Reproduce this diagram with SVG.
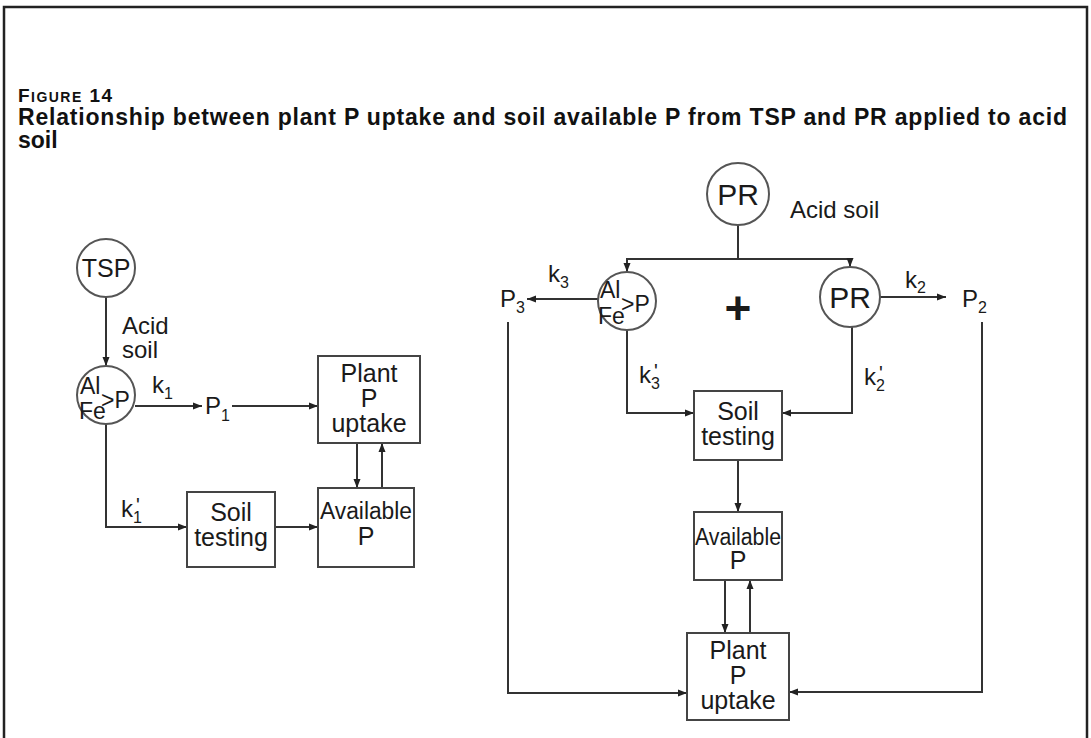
<svg xmlns="http://www.w3.org/2000/svg" width="1091" height="738" viewBox="0 0 1091 738">
<defs>
<marker id="ah" markerWidth="10" markerHeight="8" refX="9" refY="4" orient="auto" markerUnits="userSpaceOnUse">
<path d="M0,0.5 L9,4 L0,7.5 Z" fill="#222"/>
</marker>
</defs>
<style>
.t{font-family:"Liberation Sans",Arial,sans-serif;font-weight:bold;fill:#111}
.d{font-family:"Liberation Sans",Arial,sans-serif;fill:#1a1a1a;font-size:24px}
.bx{font-size:25px}
.af{font-size:23px}
.s{font-size:16px}
.pr{font-size:20px}
.c{text-anchor:middle}
.n{fill:#fff;stroke:#555;stroke-width:2}
.b{fill:#fff;stroke:#444;stroke-width:2}
.l{fill:none;stroke:#333;stroke-width:2}
.a{marker-end:url(#ah)}
</style>
<rect x="0" y="0" width="1091" height="738" fill="#fff"/>
<rect x="4" y="7" width="1083" height="760" fill="none" stroke="#222" stroke-width="2.5"/>
<g id="title">
<text class="t" x="18" y="102" textLength="94" lengthAdjust="spacing"><tspan font-size="19">F</tspan><tspan font-size="14">IGURE</tspan><tspan font-size="19"> 14</tspan></text>
<text class="t" x="18" y="125" font-size="23" textLength="1049" lengthAdjust="spacing">Relationship between plant P uptake and soil available P from TSP and PR applied to acid</text>
<text class="t" x="18" y="148" font-size="23">soil</text>
</g>
<g id="connectors">
<line class="l a" x1="106" y1="297" x2="106" y2="366"/>
<line class="l a" x1="135" y1="406" x2="202" y2="406"/>
<line class="l a" x1="232" y1="406" x2="318" y2="406"/>
<line class="l a" x1="357" y1="443" x2="357" y2="488"/>
<line class="l a" x1="382" y1="488" x2="382" y2="443"/>
<polyline class="l a" points="106,424 106,527 187,527"/>
<line class="l a" x1="275" y1="527" x2="318" y2="527"/>
<line class="l" x1="738" y1="225" x2="738" y2="259"/>
<polyline class="l a" points="738,259 627,259 627,272"/>
<polyline class="l a" points="738,259 850,259 850,267"/>
<line class="l a" x1="598" y1="299" x2="527" y2="299"/>
<line class="l a" x1="880" y1="297" x2="946" y2="297"/>
<polyline class="l a" points="508,322 508,693 687,693"/>
<polyline class="l a" points="982,322 982,692 789,692"/>
<polyline class="l a" points="627,330 627,413 694,413"/>
<polyline class="l a" points="852,327 852,413 782,413"/>
<line class="l a" x1="738" y1="460" x2="738" y2="512"/>
<line class="l a" x1="725" y1="580" x2="725" y2="633"/>
<line class="l a" x1="750" y1="633" x2="750" y2="580"/>
</g>
<g id="tsp">
<circle class="n" cx="106" cy="268" r="29"/>
<text class="d c" x="106" y="277" style="font-size:25px">TSP</text>
</g>
<g id="acid-soil-left">
<text class="d" x="122" y="334">Acid</text>
<text class="d" x="122" y="358">soil</text>
</g>
<g id="alfe-left">
<circle class="n" cx="106" cy="395" r="29"/>
<text class="d af" x="80" y="394">Al</text>
<text class="d af" x="79" y="419">Fe</text>
<text class="d af" x="101" y="408">&gt;P</text>
</g>
<g id="k1">
<text class="d" x="152" y="393">k<tspan class="s" dy="6">1</tspan></text>
</g>
<g id="p1">
<text class="d" x="205" y="414">P<tspan class="s" dy="7">1</tspan></text>
</g>
<g id="k1p">
<text class="d" x="121" y="517">k<tspan class="s" dy="6">1</tspan><tspan class="pr" dx="-6" dy="-11">'</tspan></text>
</g>
<g id="plant-left">
<rect class="b" x="318" y="356" width="102" height="87"/>
<text class="d c bx" x="369" y="382">Plant</text>
<text class="d c bx" x="369" y="407">P</text>
<text class="d c bx" x="369" y="432">uptake</text>
</g>
<g id="available-left">
<rect class="b" x="318" y="488" width="96" height="79"/>
<text class="d c" x="366" y="519" style="font-size:23px" textLength="92" lengthAdjust="spacingAndGlyphs">Available</text>
<text class="d c bx" x="366" y="545">P</text>
</g>
<g id="soiltest-left">
<rect class="b" x="187" y="492" width="88" height="75"/>
<text class="d c bx" x="231" y="521">Soil</text>
<text class="d c bx" x="231" y="546">testing</text>
</g>
<g id="pr-top">
<circle class="n" cx="738" cy="194" r="31"/>
<text class="d c" x="738" y="205" style="font-size:30px">PR</text>
</g>
<g id="acid-soil-right">
<text class="d" x="790" y="218">Acid soil</text>
</g>
<g id="alfe-right">
<circle class="n" cx="627" cy="301" r="29"/>
<text class="d af" x="600" y="298">Al</text>
<text class="d af" x="598" y="324">Fe</text>
<text class="d af" x="621" y="312">&gt;P</text>
</g>
<g id="plus">
<text class="d c" x="738" y="324" style="font-size:46px;font-weight:bold">+</text>
</g>
<g id="pr-right">
<circle class="n" cx="850" cy="297" r="30"/>
<text class="d c" x="850" y="308" style="font-size:30px">PR</text>
</g>
<g id="k3">
<text class="d" x="548" y="282">k<tspan class="s" dy="6">3</tspan></text>
</g>
<g id="p3">
<text class="d" x="500" y="307">P<tspan class="s" dy="6">3</tspan></text>
</g>
<g id="k2">
<text class="d" x="905" y="288">k<tspan class="s" dy="5">2</tspan></text>
</g>
<g id="p2">
<text class="d" x="962" y="307">P<tspan class="s" dy="6">2</tspan></text>
</g>
<g id="k3p">
<text class="d" x="639" y="383">k<tspan class="s" dy="6">3</tspan><tspan class="pr" dx="-6" dy="-11">'</tspan></text>
</g>
<g id="k2p">
<text class="d" x="864" y="385">k<tspan class="s" dy="6">2</tspan><tspan class="pr" dx="-6" dy="-11">'</tspan></text>
</g>
<g id="soiltest-right">
<rect class="b" x="694" y="391" width="88" height="69"/>
<text class="d c bx" x="738" y="420">Soil</text>
<text class="d c bx" x="738" y="445">testing</text>
</g>
<g id="available-right">
<rect class="b" x="694" y="512" width="88" height="68"/>
<text class="d c" x="738" y="545" style="font-size:23px" textLength="86" lengthAdjust="spacingAndGlyphs">Available</text>
<text class="d c bx" x="738" y="569">P</text>
</g>
<g id="plant-right">
<rect class="b" x="687" y="633" width="102" height="87"/>
<text class="d c bx" x="738" y="659">Plant</text>
<text class="d c bx" x="738" y="684">P</text>
<text class="d c bx" x="738" y="709">uptake</text>
</g>
</svg>
